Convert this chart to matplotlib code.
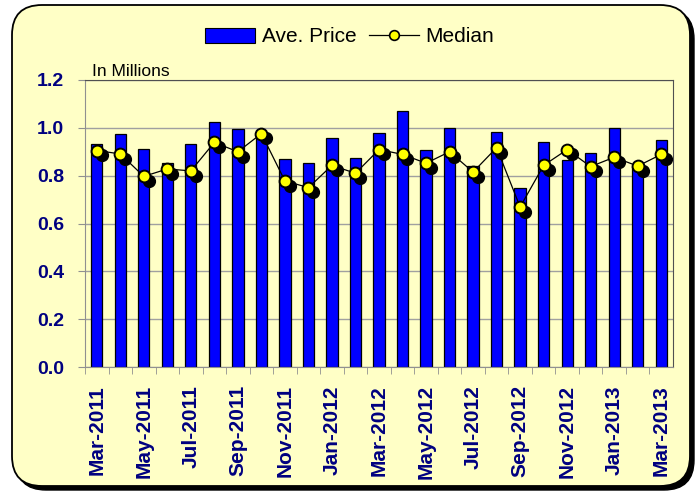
import matplotlib
matplotlib.use('Agg')
import matplotlib.pyplot as plt
import matplotlib.transforms as mtransforms
from matplotlib.patches import FancyBboxPatch, Patch
from matplotlib.lines import Line2D

# Months, Mar-2011 .. Mar-2013
months = ['Mar-2011', 'Apr-2011', 'May-2011', 'Jun-2011', 'Jul-2011', 'Aug-2011',
          'Sep-2011', 'Oct-2011', 'Nov-2011', 'Dec-2011', 'Jan-2012', 'Feb-2012',
          'Mar-2012', 'Apr-2012', 'May-2012', 'Jun-2012', 'Jul-2012', 'Aug-2012',
          'Sep-2012', 'Oct-2012', 'Nov-2012', 'Dec-2012', 'Jan-2013', 'Feb-2013',
          'Mar-2013']

# values in millions
ave_price = [0.934, 0.976, 0.913, 0.854, 0.934, 1.026, 0.994, 0.975, 0.871, 0.854,
             0.959, 0.875, 0.980, 1.072, 0.909, 1.001, 0.842, 0.984, 0.750, 0.942,
             0.867, 0.896, 1.001, 0.840, 0.951]
median = [0.905, 0.891, 0.797, 0.828, 0.820, 0.939, 0.900, 0.976, 0.778, 0.750,
          0.843, 0.810, 0.909, 0.889, 0.852, 0.900, 0.815, 0.917, 0.669, 0.843,
          0.909, 0.838, 0.877, 0.840, 0.889]

yticks = [0.0, 0.2, 0.4, 0.6, 0.8, 1.0, 1.2]

bg = '#FFFFC6'
navy = '#000080'

fig = plt.figure(figsize=(6.99, 4.91), dpi=100)
fig.patch.set_facecolor('white')

# rounded background panel, drawn in pixel units
bgax = fig.add_axes([0, 0, 1, 1], zorder=0)
bgax.set_xlim(0, 699)
bgax.set_ylim(491, 0)
bgax.axis('off')
shadow = FancyBboxPatch((16, 9), 678, 481, boxstyle='round,pad=0,rounding_size=30',
                        facecolor='black', edgecolor='black', lw=1)
panel = FancyBboxPatch((12, 5), 678, 481, boxstyle='round,pad=0,rounding_size=30',
                       facecolor=bg, edgecolor='black', lw=1.3)
bgax.add_patch(shadow)
bgax.add_patch(panel)

ax = fig.add_axes([85 / 699, 1 - 367 / 491, 588 / 699, 287 / 491], zorder=1)
ax.set_facecolor(bg)

x = list(range(len(months)))
ax.bar(x, ave_price, width=0.48, color='#0000FF', edgecolor='black', lw=0.9, zorder=2)

ax.plot(x, median, color='black', lw=0.9, zorder=3)
shift = mtransforms.offset_copy(ax.transData, fig=fig, x=3.5, y=-3.5, units='points')
ax.plot(x, median, ls='none', marker='o', ms=8.5, mfc='black', mec='black',
        transform=shift, zorder=4)
ax.plot(x, median, ls='none', marker='o', ms=8.5, mfc='#FFFF00', mec='black',
        mew=1.4, zorder=5)

ax.set_xlim(-0.5, len(months) - 0.5)
ax.set_ylim(0, 1.2)
ax.set_yticks(yticks)
ax.set_yticklabels([f'{v:.1f}' for v in yticks], fontsize=14, fontweight='bold',
                   color=navy, family='Liberation Sans')
ax.yaxis.grid(True, color='#A0A0A0', lw=1, zorder=0)
ax.set_axisbelow(True)

ax.set_xticks(x[::2])
ax.set_xticklabels(months[::2], rotation=90, fontsize=15, fontweight='bold',
                   color=navy, family='Liberation Sans')
ax.set_xticks([i + 0.5 for i in x[:-1]] + [-0.5], minor=True)
ax.tick_params(axis='x', which='major', length=0, pad=13)
ax.tick_params(axis='x', which='minor', length=5, color='#909090', direction='out')
ax.tick_params(axis='y', length=5, color='#909090', direction='out', pad=10)

for s in ['left', 'bottom']:
    ax.spines[s].set_color('#909090')
for s in ['top', 'right']:
    ax.spines[s].set_color('#505050')

ax.text(0.012, 1.003, 'In Millions', transform=ax.transAxes, fontsize=12.5,
        family='Liberation Sans', va='bottom', ha='left')

handles = [Patch(facecolor='#0000FF', edgecolor='black', lw=0.8),
           Line2D([0], [0], color='black', lw=0.9, marker='o', ms=7,
                  mfc='#FFFF00', mec='black', mew=1.2)]
fig.legend(handles, ['Ave. Price', 'Median'], loc='center', bbox_to_anchor=(0.5, 1 - 37 / 491),
           ncol=2, frameon=False, prop={'family': 'Liberation Sans', 'size': 15},
           handlelength=2.4, handletextpad=0.3, columnspacing=0.6)

fig.savefig('out.png', dpi=100, facecolor='white')
